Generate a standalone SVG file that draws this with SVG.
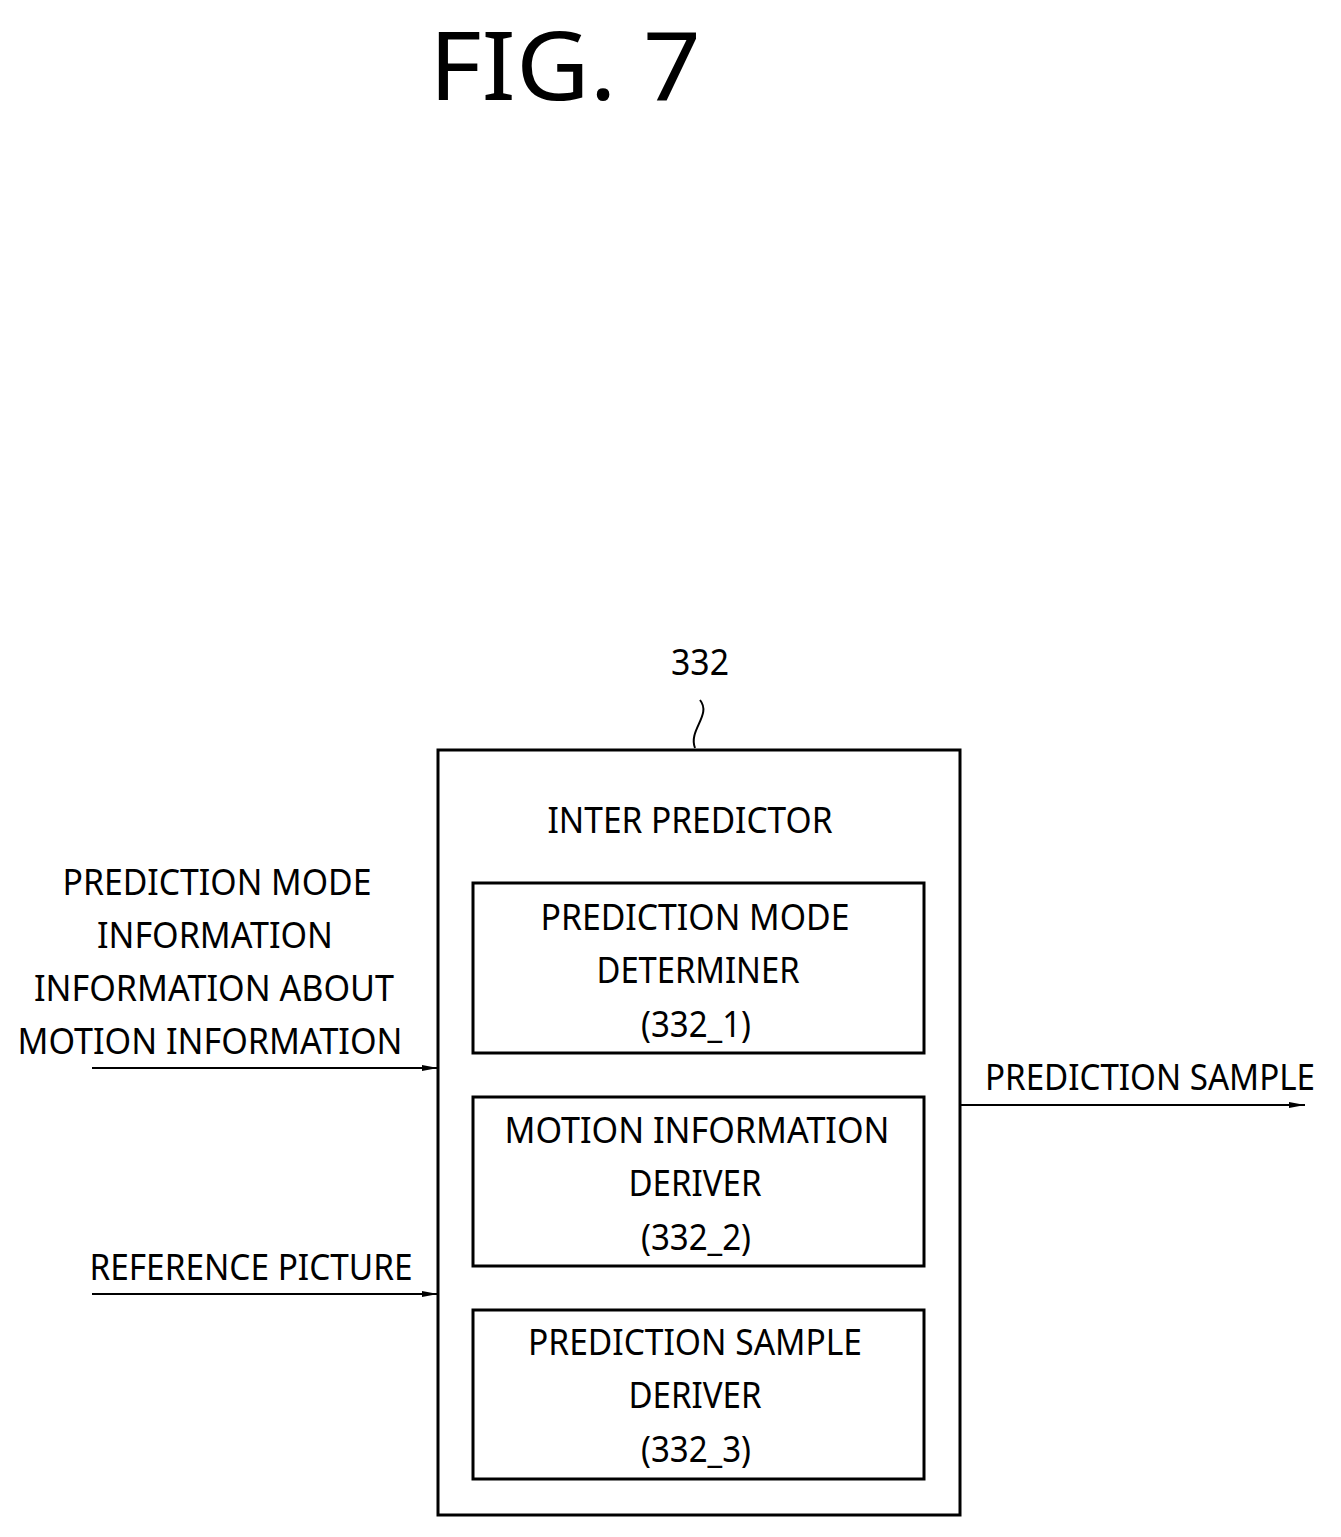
<svg xmlns="http://www.w3.org/2000/svg" width="1341" height="1537" viewBox="0 0 1341 1537">
<style>
text{font-family:"Noto Sans","DejaVu Sans",sans-serif;font-size:37px;fill:#000;text-anchor:middle}
.b{fill:#fff;stroke:#000;stroke-width:3}
.c{stroke:#000;stroke-width:2;fill:none}
</style>
<defs><marker id="a" markerWidth="16" markerHeight="8" refX="16" refY="4" orient="auto" markerUnits="userSpaceOnUse"><path d="M0,1L16,4L0,7Z" fill="#000"/></marker></defs>
<rect width="1341" height="1537" fill="#fff"/>
<text x="565" y="100" style="font-size:95px" textLength="272" lengthAdjust="spacingAndGlyphs">FIG. 7</text>
<g id="outer">
<rect class="b" x="438" y="750" width="522" height="765"/>
<text x="700" y="675" textLength="58" lengthAdjust="spacingAndGlyphs">332</text>
<path class="c" d="M700,700 C712,715 688,730 695,748"/>
<text x="690" y="833" textLength="285" lengthAdjust="spacingAndGlyphs">INTER PREDICTOR</text>
</g>
<g id="n1"><rect class="b" x="473" y="883" width="451" height="170"/>
<text x="695" y="930" textLength="309" lengthAdjust="spacingAndGlyphs">PREDICTION MODE</text>
<text x="698" y="983" textLength="203" lengthAdjust="spacingAndGlyphs">DETERMINER</text>
<text x="696" y="1037" textLength="110" lengthAdjust="spacingAndGlyphs">(332_1)</text></g>
<g id="n2"><rect class="b" x="473" y="1097" width="451" height="169"/>
<text x="697" y="1143" textLength="385" lengthAdjust="spacingAndGlyphs">MOTION INFORMATION</text>
<text x="695" y="1196" textLength="133" lengthAdjust="spacingAndGlyphs">DERIVER</text>
<text x="696" y="1250" textLength="110" lengthAdjust="spacingAndGlyphs">(332_2)</text></g>
<g id="n3"><rect class="b" x="473" y="1310" width="451" height="169"/>
<text x="695" y="1355" textLength="334" lengthAdjust="spacingAndGlyphs">PREDICTION SAMPLE</text>
<text x="695" y="1408" textLength="133" lengthAdjust="spacingAndGlyphs">DERIVER</text>
<text x="696" y="1462" textLength="110" lengthAdjust="spacingAndGlyphs">(332_3)</text></g>
<g id="labels">
<text x="217" y="895" textLength="309" lengthAdjust="spacingAndGlyphs">PREDICTION MODE</text>
<text x="215" y="948" textLength="236" lengthAdjust="spacingAndGlyphs">INFORMATION</text>
<text x="214" y="1001" textLength="360" lengthAdjust="spacingAndGlyphs">INFORMATION ABOUT</text>
<text x="210" y="1054" textLength="385" lengthAdjust="spacingAndGlyphs">MOTION INFORMATION</text>
<text x="251" y="1280" textLength="323" lengthAdjust="spacingAndGlyphs">REFERENCE PICTURE</text>
<text x="1150" y="1090" textLength="330" lengthAdjust="spacingAndGlyphs">PREDICTION SAMPLE</text>
</g>
<g id="connectors">
<line class="c" x1="92" y1="1068" x2="438" y2="1068" marker-end="url(#a)"/>
<line class="c" x1="92" y1="1294" x2="438" y2="1294" marker-end="url(#a)"/>
<line class="c" x1="960" y1="1105" x2="1305" y2="1105" marker-end="url(#a)"/>
</g>
</svg>
